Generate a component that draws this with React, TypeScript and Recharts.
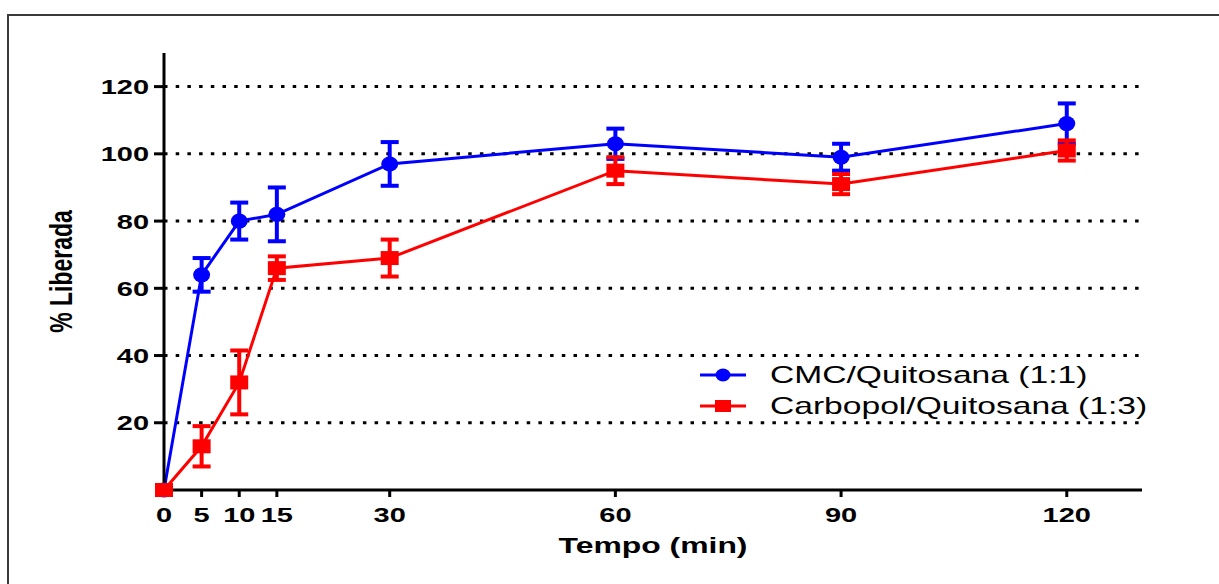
import React from 'react';
import { LineChart, Line, XAxis, YAxis, CartesianGrid, ErrorBar, Legend, Label } from 'recharts';

const times = [0, 5, 10, 15, 30, 60, 90, 120];
const cmc = [0, 64, 80, 82, 97, 103, 99, 109];
const cmcErr = [0, 5, 5.5, 8, 6.5, 4.5, 4, 6];
const carbopol = [0, 13, 32, 66, 69, 95, 91, 101];
const carbopolErr = [0, 6, 9.5, 3.5, 5.5, 4, 3, 3];
const xTicks = [0, 5, 10, 15, 30, 60, 90, 120];
const yTicks = [20, 40, 60, 80, 100, 120];

const series = [
  { key: 'cmc', name: 'CMC/Quitosana (1:1)', color: '#0000ff', shape: 'circle' },
  { key: 'carbopol', name: 'Carbopol/Quitosana (1:3)', color: '#ff0000', shape: 'square' },
];

const data = times.map((t, i) => ({
  time: t,
  cmc: cmc[i],
  cmcErr: cmcErr[i],
  carbopol: carbopol[i],
  carbopolErr: carbopolErr[i],
}));

const FONT = '"Liberation Sans", Arial, sans-serif';
// the original picture is stretched sideways, so the text gets widened too
const STRETCH = 1.38;

const YTick = (props: any) => {
  const { x, y, payload } = props;
  return (
    <text
      transform={`translate(${x},${y}) scale(${STRETCH},1)`}
      textAnchor="end"
      dominantBaseline="central"
      fontFamily={FONT}
      fontWeight="bold"
      fontSize={21}
      fill="#000"
    >
      {payload.value}
    </text>
  );
};

const XTick = (props: any) => {
  const { x, y, payload } = props;
  return (
    <text
      transform={`translate(${x},${y + 15}) scale(${STRETCH},1)`}
      textAnchor="middle"
      fontFamily={FONT}
      fontWeight="bold"
      fontSize={21}
      fill="#000"
    >
      {payload.value}
    </text>
  );
};

const XTitle = (props: any) => {
  const vb = props.viewBox || { x: 164, y: 490, width: 978 };
  const cx = vb.x + vb.width / 2;
  const cy = vb.y + 55;
  return (
    <text
      transform={`translate(${cx},${cy}) scale(1.45,1)`}
      textAnchor="middle"
      dominantBaseline="central"
      fontFamily={FONT}
      fontWeight="bold"
      fontSize={22}
      fill="#000"
    >
      Tempo (min)
    </text>
  );
};

const YTitle = (props: any) => {
  const vb = props.viewBox || { x: 64, y: 53, height: 437 };
  const cx = vb.x - 3;
  const cy = vb.y + vb.height / 2;
  return (
    <text
      transform={`translate(${cx},${cy}) scale(1.4,1) rotate(-90)`}
      textAnchor="middle"
      dominantBaseline="central"
      fontFamily={FONT}
      fontWeight="bold"
      fontSize={23}
      fill="#000"
    >
      % Liberada
    </text>
  );
};

const Marker = ({ cx, cy, shape, color, small }: any) => {
  if (shape === 'circle') {
    return <ellipse cx={cx} cy={cy} rx={small ? 7.5 : 8.5} ry={small ? 6.5 : 7.5} fill={color} />;
  }
  const w = small ? 16 : 18;
  const h = small ? 12 : 14;
  return <rect x={cx - w / 2} y={cy - h / 2} width={w} height={h} fill={color} />;
};

const makeDot = (shape: string, color: string) => (props: any) => {
  const { cx, cy, index } = props;
  return (
    <g key={`${shape}-${index}`}>
      <Marker cx={cx} cy={cy} shape={shape} color={color} />
    </g>
  );
};

const LegendBox = () => (
  <svg width={470} height={70}>
    {series.map((s, i) => {
      const y = 17 + i * 31;
      return (
        <g key={s.key}>
          <line x1={5} x2={51} y1={y} y2={y} stroke={s.color} strokeWidth={3} />
          <Marker cx={28} cy={y} shape={s.shape} color={s.color} small />
          <text
            transform={`translate(75,${y}) scale(1.4,1)`}
            dominantBaseline="central"
            fontFamily={FONT}
            fontSize={24}
            fill="#000"
          >
            {s.name}
          </text>
        </g>
      );
    })}
  </svg>
);

export default function App() {
  return (
    <div style={{ position: 'absolute', left: 0, top: 0, width: 1219, height: 584, background: '#fff' }}>
      <div
        style={{
          position: 'absolute',
          left: 7,
          top: 14,
          width: 1212,
          height: 570,
          borderTop: '2px solid #3a3a3a',
          borderLeft: '2px solid #3a3a3a',
          boxSizing: 'border-box',
        }}
      />
      <div style={{ position: 'absolute', left: 0, top: 0 }}>
        <LineChart width={1219} height={584} data={data} margin={{ top: 53, right: 77, bottom: 30, left: 64 }}>
          <CartesianGrid
            vertical={false}
            horizontalValues={yTicks}
            stroke="#000"
            strokeWidth={3}
            strokeDasharray="3.5 8.2"
          />
          <XAxis
            dataKey="time"
            type="number"
            domain={[0, 130]}
            ticks={xTicks}
            height={64}
            tickSize={7}
            tickMargin={10}
            axisLine={{ stroke: '#000', strokeWidth: 3 }}
            tickLine={{ stroke: '#000', strokeWidth: 3 }}
            tick={<XTick />}
            interval={0}
            label={<Label content={<XTitle />} />}
          />
          <YAxis
            type="number"
            domain={[0, 130]}
            ticks={yTicks}
            width={100}
            tickSize={10}
            tickMargin={5}
            axisLine={{ stroke: '#000', strokeWidth: 3 }}
            tickLine={{ stroke: '#000', strokeWidth: 3 }}
            tick={<YTick />}
            interval={0}
            label={<Label content={<YTitle />} />}
          />
          <Legend
            layout="vertical"
            align="center"
            verticalAlign="middle"
            content={<LegendBox />}
            wrapperStyle={{ position: 'absolute', left: 695, top: 358, width: 470, height: 70 }}
          />
          {series.map((s) => (
            <Line
              key={s.key}
              dataKey={s.key}
              name={s.name}
              stroke={s.color}
              strokeWidth={3}
              dot={makeDot(s.shape, s.color)}
              activeDot={false}
              isAnimationActive={false}
            >
              <ErrorBar dataKey={`${s.key}Err`} direction="y" width={9} strokeWidth={4} stroke={s.color} isAnimationActive={false} />
            </Line>
          ))}
        </LineChart>
      </div>
    </div>
  );
}
